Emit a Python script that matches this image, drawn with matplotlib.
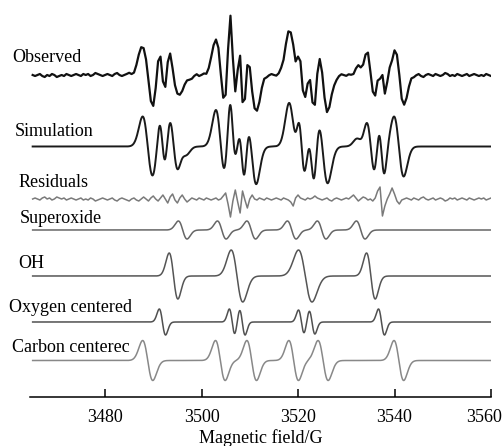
import matplotlib
matplotlib.use("Agg")
import matplotlib.pyplot as plt
import matplotlib.transforms as mtransforms
import numpy as np

# Line positions (G), peak heights and widths (sigma, G)
superoxide_pos = [3496.1, 3504.2, 3510.3, 3518.7, 3524.9, 3533.0]
superoxide_amp = [9, 9, 9, 9, 9, 9]
superoxide_sig = [0.9, 0.9, 0.9, 0.9, 0.9, 0.9]

oh_pos = [3494.2, 3507.35, 3521.5, 3535.1]
oh_amp = [23, 26, 26, 23]
oh_sig = [0.9, 1.2, 1.4, 0.9]

oxygen_pos = [3491.9, 3506.35, 3508.45, 3520.7, 3522.9, 3537.3]
oxygen_amp = [13, 13, 13, 12, 12, 13]
oxygen_sig = [0.65, 0.58, 0.58, 0.6, 0.6, 0.62]

carbon_pos = [3488.85, 3503.9, 3510.4, 3519.1, 3525.2, 3540.9]
carbon_amp = [20, 20, 20, 20, 20, 20]
carbon_sig = [1.05, 1.0, 1.0, 1.0, 1.05, 1.0]

# weight of each component in the simulated spectrum
weights = {"superoxide": 0.8, "oh": 1.3, "oxygen": 2.1, "carbon": 1.5}

# residual (simulation - observed), one value every 0.5 G from 3465 to 3560
residuals = [
    0, 1, 0, -1, 1, 2, 0, 1, -1, 0, 2, 1, 0, 1, -1, 0, 1, 0, -1, 0,
    1, -1, 0, -1, 1, 0, -2, -1, 0, 1, 0, -1, 0, 1, -1, -2, 0, 1, 0, -1,
    -2, 0, 1, -1, -2, 0, 2, 0, -2, 1, 3, 0, -2, 1, 4, 0, -4, 2, 5, -1,
    -4, 1, 4, 0, -3, -1, 1, 0, -1, 1, 0, -1, 1, 0, -1, 0, 1, -1, 0, 3,
    6, -5, -18, -2, 9, -3, -14, 8, -1, -9, 0, 4, 0, -1, 1, 0, -1, 1, 0, -1,
    0, 1, 0, -1, 1, 0, -1, -3, -7, 1, 4, 1, 0, -1, 1, 0, 1, 3, 1, 0,
    -1, 0, 1, -1, -2, 0, 1, 0, -1, 0, 1, 0, 2, 4, 1, -2, 0, 2, 1, -1,
    0, -2, 1, 8, 12, -17, -7, 0, 5, 11, 5, -2, -5, -1, 0, 1, 0, -1, 1, 0,
    -1, 1, 2, 0, -1, 0, 1, -1, 0, 1, 0, -2, -1, 1, 0, 1, -1, 0, 1, 0,
    -1, 1, 0, -1, 0, 1, 0, 1, -1, 0, 1,
]

field_ticks = [3480, 3500, 3520, 3540, 3560]

labels = ["Observed", "Simulation", "Residuals", "Superoxide", "OH",
          "Oxygen centered", "Carbon centerec"]


def derivative_lines(x, pos, amp, sig):
    y = np.zeros_like(x)
    for p, a, s in zip(pos, amp, sig):
        u = (x - p) / s
        y += -a * u * np.exp(0.5 * (1 - u ** 2))
    return y


x = np.linspace(3465, 3560, 1901)
xr = np.arange(3465, 3560.01, 0.5)[: len(residuals)]
res = np.array(residuals, dtype=float)

comps = {
    "superoxide": (superoxide_pos, superoxide_amp, superoxide_sig),
    "oh": (oh_pos, oh_amp, oh_sig),
    "oxygen": (oxygen_pos, oxygen_amp, oxygen_sig),
    "carbon": (carbon_pos, carbon_amp, carbon_sig),
}


def simulate(xx):
    return sum(weights[k] * derivative_lines(xx, *v) for k, v in comps.items())


sim = simulate(x)
observed = simulate(xr) - res

fig = plt.figure(figsize=(5.04, 4.46), dpi=100)
W, H = 504, 446
ax = fig.add_axes([30 / W, 49 / H, 461 / W, 397 / H])
ax.set_xlim(3464.45, 3560)
ax.set_ylim(0, 397)

# baselines, as distance from the axis line (px)
ax.plot(xr, 322 + observed, color="#111111", lw=1.6)
ax.plot(x, 250.5 + sim, color="#1a1a1a", lw=1.4)
ax.plot(xr, 198 + res, color="#7a7a7a", lw=1.1)
ax.plot(x, 167 + derivative_lines(x, *comps["superoxide"]), color="#666666", lw=1.1)
ax.plot(x, 121 + derivative_lines(x, *comps["oh"]), color="#555555", lw=1.1)
ax.plot(x, 75 + derivative_lines(x, *comps["oxygen"]), color="#505050", lw=1.1)
ax.plot(x, 36.5 + derivative_lines(x, *comps["carbon"]), color="#888888", lw=1.1)

for side in ["left", "right", "top"]:
    ax.spines[side].set_visible(False)
ax.spines["bottom"].set_linewidth(1.1)
ax.set_yticks([])
ax.set_xticks(field_ticks)
ax.tick_params(axis="x", direction="in", length=6, width=1.1, pad=9,
               labelsize=13, labelfontfamily="Liberation Serif")
ax.set_xlabel("Magnetic field/G", fontsize=13, family="Liberation Serif",
              labelpad=2)

# last tick label sits pulled in from the right edge
last = ax.get_xticklabels()[-1]
last.set_transform(last.get_transform()
                   + mtransforms.ScaledTranslation(-7 / 100, 0, fig.dpi_scale_trans))

label_pos = [(12, 58), (15, 131), (19, 182), (20, 218), (18, 264), (9, 308), (12, 347)]
for text, (px, py) in zip(labels, label_pos):
    fig.text(px / W, 1 - py / H, text, ha="left", va="center",
             fontsize=13, family="Liberation Serif")

fig.savefig("out.png", dpi=100)
